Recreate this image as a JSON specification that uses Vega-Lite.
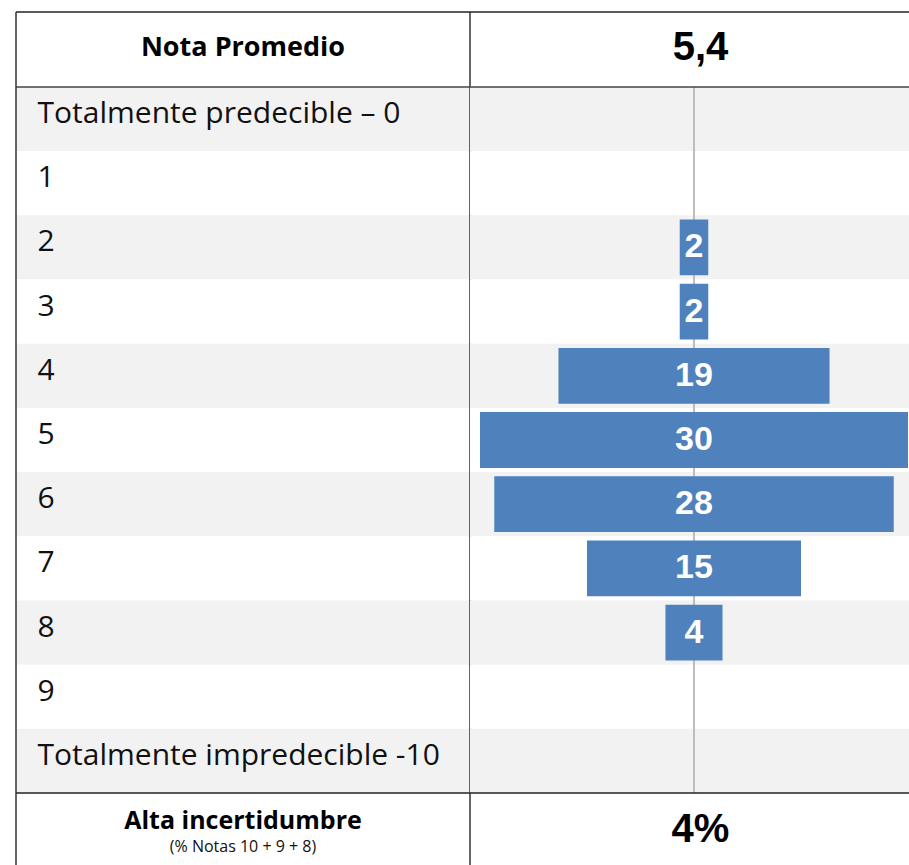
{
  "$schema": "https://vega.github.io/schema/vega-lite/v6.json",
  "padding": {"left": 15, "top": 11, "right": 0, "bottom": 0},
  "background": "white",
  "spacing": 0,
  "bounds": "flush",
  "align": "each",
  "columns": 2,
  "config": {"view": {"stroke": null}},
  "datasets": {
    "header": [{"label": "Nota Promedio", "value": "5,4"}],
    "rows": [
      {"nota": 0, "label": "Totalmente predecible – 0", "value": 0},
      {"nota": 1, "label": "1", "value": 0},
      {"nota": 2, "label": "2", "value": 2},
      {"nota": 3, "label": "3", "value": 2},
      {"nota": 4, "label": "4", "value": 19},
      {"nota": 5, "label": "5", "value": 30},
      {"nota": 6, "label": "6", "value": 28},
      {"nota": 7, "label": "7", "value": 15},
      {"nota": 8, "label": "8", "value": 4},
      {"nota": 9, "label": "9", "value": 0},
      {"nota": 10, "label": "Totalmente impredecible -10", "value": 0}
    ],
    "footer": [{"label": "Alta incertidumbre", "note": "(% Notas 10 + 9 + 8)", "value": "4%"}]
  },
  "concat": [
    {
      "width": 454,
      "height": 75,
      "data": {"name": "header"},
      "layer": [
        {"mark": {"type": "rule", "color": "#222", "strokeWidth": 1.5}, "encoding": {"x": {"value": 0}, "x2": {"value": "width"}, "y": {"value": 0}}},
        {"mark": {"type": "rule", "color": "#333", "strokeWidth": 1.5}, "encoding": {"x": {"value": 0}, "y": {"value": 0}, "y2": {"value": "height"}}},
        {"mark": {"type": "rule", "color": "#333", "strokeWidth": 1.5}, "encoding": {"x": {"value": "width"}, "y": {"value": 0}, "y2": {"value": "height"}}},
        {"mark": {"type": "text", "font": "Open Sans", "fontWeight": "bold", "fontSize": 27, "letterSpacing": 1.2, "color": "#000", "align": "center", "baseline": "middle", "dy": -2}, "encoding": {"text": {"field": "label"}}}
      ]
    },
    {
      "width": 439,
      "height": 75,
      "data": {"name": "header"},
      "layer": [
        {"mark": {"type": "rule", "color": "#222", "strokeWidth": 1.5}, "encoding": {"x": {"value": 0}, "x2": {"value": "width"}, "y": {"value": 0}}},
        {"mark": {"type": "text", "font": "Liberation Sans", "fontWeight": "bold", "fontSize": 40, "color": "#000", "align": "center", "baseline": "middle", "dx": 11, "dy": -2}, "encoding": {"text": {"field": "value"}}}
      ]
    },
    {
      "width": 454,
      "height": 706,
      "data": {"name": "rows"},
      "layer": [
        {
          "mark": {"type": "rect"},
          "encoding": {
            "y": {"field": "label", "type": "nominal", "sort": null, "scale": {"paddingInner": 0, "paddingOuter": 0},
              "axis": {"orient": "left", "title": null, "domain": false, "ticks": false, "tickSize": 0, "grid": false, "labelAlign": "left", "labelBaseline": "middle", "labelPadding": -21, "labelFont": "Open Sans", "labelFontSize": 30, "labelColor": "#111", "labelLimit": 440, "labelOffset": -5, "zindex": 1}},
            "x": {"value": 0},
            "x2": {"value": "width"},
            "color": {"condition": {"test": "datum.nota % 2 === 0", "value": "#f2f2f2"}, "value": "#ffffff"}
          }
        },
        {"transform": [{"aggregate": [{"op": "count", "as": "n"}]}], "mark": {"type": "rule", "color": "#444", "strokeWidth": 1.5}, "encoding": {"x": {"value": 0}, "x2": {"value": "width"}, "y": {"value": 0}}},
        {"transform": [{"aggregate": [{"op": "count", "as": "n"}]}], "mark": {"type": "rule", "color": "#333", "strokeWidth": 1.5}, "encoding": {"x": {"value": 0}, "y": {"value": 0}, "y2": {"value": "height"}}},
        {"transform": [{"aggregate": [{"op": "count", "as": "n"}]}], "mark": {"type": "rule", "color": "#333", "strokeWidth": 1.5}, "encoding": {"x": {"value": "width"}, "y": {"value": 0}, "y2": {"value": "height"}}}
      ]
    },
    {
      "width": 439,
      "height": 706,
      "data": {"name": "rows"},
      "layer": [
        {
          "mark": {"type": "rect"},
          "encoding": {
            "y": {"field": "label", "type": "nominal", "sort": null, "scale": {"paddingInner": 0, "paddingOuter": 0}, "axis": null},
            "x": {"value": 0},
            "x2": {"value": "width"},
            "color": {"condition": {"test": "datum.nota % 2 === 0", "value": "#f2f2f2"}, "value": "#ffffff"}
          }
        },
        {
          "transform": [{"aggregate": [{"op": "count", "as": "n"}]}],
          "mark": {"type": "rule", "color": "#bdbdbd", "strokeWidth": 2},
          "encoding": {"x": {"datum": 15, "type": "quantitative", "scale": {"domain": [-0.7, 30.07], "nice": false, "zero": false}, "axis": null}, "y": {"value": 0}, "y2": {"value": "height"}}
        },
        {
          "mark": {"type": "bar", "color": "#4f81bd", "height": {"band": 0.87}},
          "encoding": {
            "y": {"field": "label", "type": "nominal", "sort": null, "axis": null},
            "x": {"field": "value", "type": "quantitative", "stack": "center", "axis": null}
          }
        },
        {
          "transform": [{"filter": "datum.value > 0"}],
          "mark": {"type": "text", "font": "Liberation Sans", "fontWeight": "bold", "fontSize": 34, "color": "white", "align": "center", "baseline": "middle"},
          "encoding": {
            "y": {"field": "label", "type": "nominal", "sort": null, "axis": null},
            "x": {"datum": 15, "type": "quantitative"},
            "text": {"field": "value", "type": "quantitative"}
          }
        },
        {"transform": [{"aggregate": [{"op": "count", "as": "n"}]}], "mark": {"type": "rule", "color": "#444", "strokeWidth": 1.5}, "encoding": {"x": {"value": 0}, "x2": {"value": "width"}, "y": {"value": 0}}}
      ]
    },
    {
      "width": 454,
      "height": 72,
      "data": {"name": "footer"},
      "layer": [
        {"mark": {"type": "rule", "color": "#222", "strokeWidth": 1.5}, "encoding": {"x": {"value": 0}, "x2": {"value": "width"}, "y": {"value": 0}}},
        {"mark": {"type": "rule", "color": "#333", "strokeWidth": 1.5}, "encoding": {"x": {"value": 0}, "y": {"value": 0}, "y2": {"value": "height"}}},
        {"mark": {"type": "rule", "color": "#333", "strokeWidth": 1.5}, "encoding": {"x": {"value": "width"}, "y": {"value": 0}, "y2": {"value": "height"}}},
        {"mark": {"type": "text", "font": "Open Sans", "fontWeight": "bold", "fontSize": 25, "color": "#000", "align": "center", "baseline": "middle", "dy": -8}, "encoding": {"text": {"field": "label"}}},
        {"mark": {"type": "text", "font": "Open Sans", "fontSize": 16, "letterSpacing": 0.4, "color": "#111", "align": "center", "baseline": "middle", "dy": 18}, "encoding": {"text": {"field": "note"}}}
      ]
    },
    {
      "width": 439,
      "height": 72,
      "data": {"name": "footer"},
      "layer": [
        {"mark": {"type": "rule", "color": "#222", "strokeWidth": 1.5}, "encoding": {"x": {"value": 0}, "x2": {"value": "width"}, "y": {"value": 0}}},
        {"mark": {"type": "text", "font": "Liberation Sans", "fontWeight": "bold", "fontSize": 40, "color": "#000", "align": "center", "baseline": "middle", "dx": 11, "dy": 1}, "encoding": {"text": {"field": "value"}}}
      ]
    }
  ]
}
